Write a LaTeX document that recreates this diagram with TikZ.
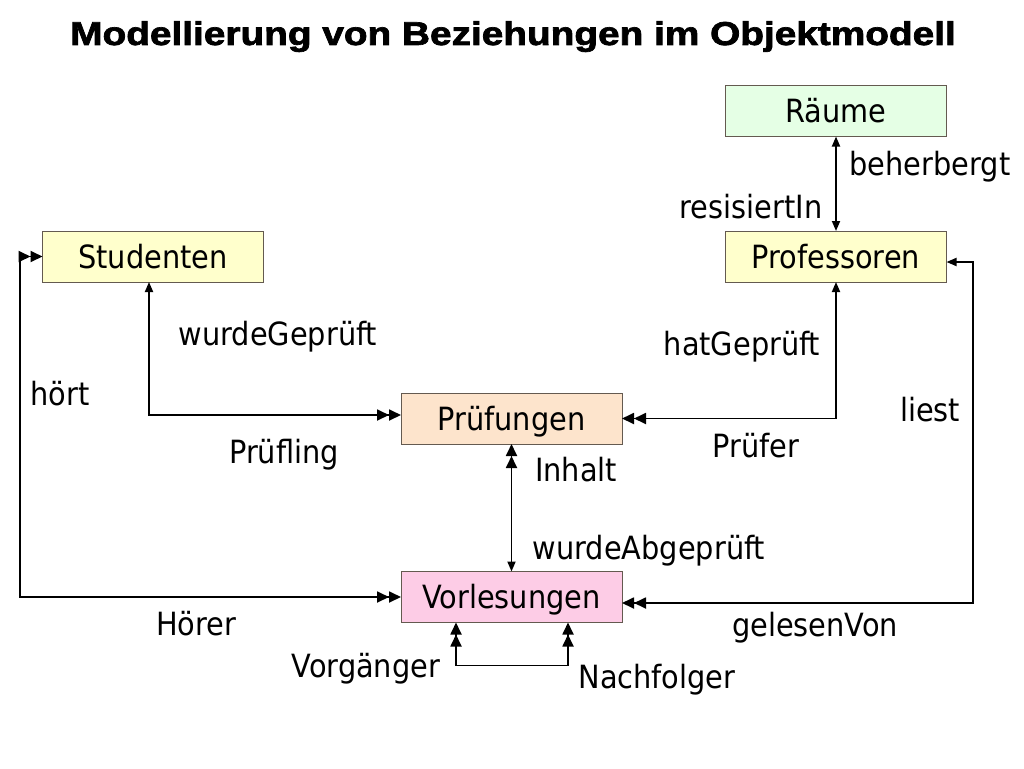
\documentclass[tikz,border=0pt]{standalone}
\usepackage{fontspec}
\setmainfont{DejaVu Sans Condensed}
\newfontfamily\titlefont[BoldFeatures={FakeBold=2}]{Liberation Sans}
\usetikzlibrary{arrows.meta}
\definecolor{cgreen}{RGB}{229,255,229}
\definecolor{cyellow}{RGB}{255,255,204}
\definecolor{cpeach}{RGB}{253,228,204}
\definecolor{cpink}{RGB}{253,204,230}
\definecolor{cborder}{RGB}{100,90,80}
\begin{document}
\begin{tikzpicture}[x=1pt,y=-1pt,
  every node/.style={inner sep=0pt, outer sep=0pt},
  lbl/.style={font=\fontsize{32}{36}\selectfont, text height=23.3pt, text depth=0pt, anchor=center},
  box/.style={draw=cborder, line width=1pt, minimum width=221pt, minimum height=51pt,
    font=\fontsize{32}{36}\selectfont, text height=23.3pt, text depth=0pt},
  conn/.style={line width=1.8pt, black},
  ss/.style={arrows={Triangle[length=10pt,width=8pt]-Triangle[length=10pt,width=8pt]}},
  sd/.style={arrows={Triangle[length=10pt,width=8pt]-Triangle[length=12pt,width=11pt] Triangle[length=12pt,width=11pt]}},
  ds/.style={arrows={Triangle[length=12pt,width=11pt] Triangle[length=12pt,width=11pt]-Triangle[length=10pt,width=8pt]}},
  dd/.style={arrows={Triangle[length=12pt,width=11pt] Triangle[length=12pt,width=11pt]-Triangle[length=12pt,width=11pt] Triangle[length=12pt,width=11pt]}}
]
\useasboundingbox (0,0) rectangle (1024,768);
\fill[white] (0,0) rectangle (1024,768);

\node[font=\titlefont\bfseries\fontsize{33}{38}\selectfont, text height=24pt, text depth=0pt] (title) at (513,33)
  {\scalebox{1.175}[1]{Modellierung von Beziehungen im Objektmodell}};

\node[box, fill=cgreen] (raeume) at (836,111) {Räume};
\node[box, fill=cyellow] (prof) at (836,256.5) {Professoren};
\node[box, fill=cyellow] (stud) at (153,256.5) {Studenten};
\node[box, fill=cpeach] (pruef) at (511.5,418.5) {Prüfungen};
\node[box, fill=cpink] (vorl) at (511.5,597) {Vorlesungen};

\coordinate (hl) at (20,256.5);
\coordinate (lr) at (973,262);

% Räume <-> Professoren
\draw[conn, ss] (raeume.south) -- (prof.north);
% Studenten - Prüfungen
\draw[conn, sd] ([xshift=-4pt]stud.south) |- ([yshift=3.5pt]pruef.west);
% Professoren - Prüfungen
\draw[conn, sd] (prof.south) |- (pruef.east);
% Prüfungen - Vorlesungen
\draw[conn, ds] (pruef.south) -- (vorl.north);
% hört / Hörer
\draw[conn, dd] (stud.west) -- (hl) |- (vorl.west);
% liest / gelesenVon
\draw[conn, sd] ([yshift=-5.5pt]prof.east) -- (lr) |- ([yshift=-6pt]vorl.east);
% Vorgänger / Nachfolger
\draw[conn, dd] ([xshift=-55.5pt]vorl.south) -- ++(0,43) -| ([xshift=56.5pt]vorl.south);

\node[lbl] (l1) at (930,164) {beherbergt};
\node[lbl] (l2) at (751,207) {resisiertIn};
\node[lbl] (l3) at (278,334) {wurdeGeprüft};
\node[lbl] (l4) at (60,394) {hört};
\node[lbl] (l5) at (284,452) {Prüfling};
\node[lbl] (l6) at (742,344) {hatGeprüft};
\node[lbl] (l7) at (930,410) {liest};
\node[lbl] (l8) at (756,446) {Prüfer};
\node[lbl] (l9) at (576,470) {Inhalt};
\node[lbl] (l10) at (649,548) {wurdeAbgeprüft};
\node[lbl] (l11) at (196,624) {Hörer};
\node[lbl] (l12) at (815,625) {gelesenVon};
\node[lbl] (l13) at (366,666) {Vorgänger};
\node[lbl] (l14) at (657,677) {Nachfolger};
\end{tikzpicture}
\end{document}
